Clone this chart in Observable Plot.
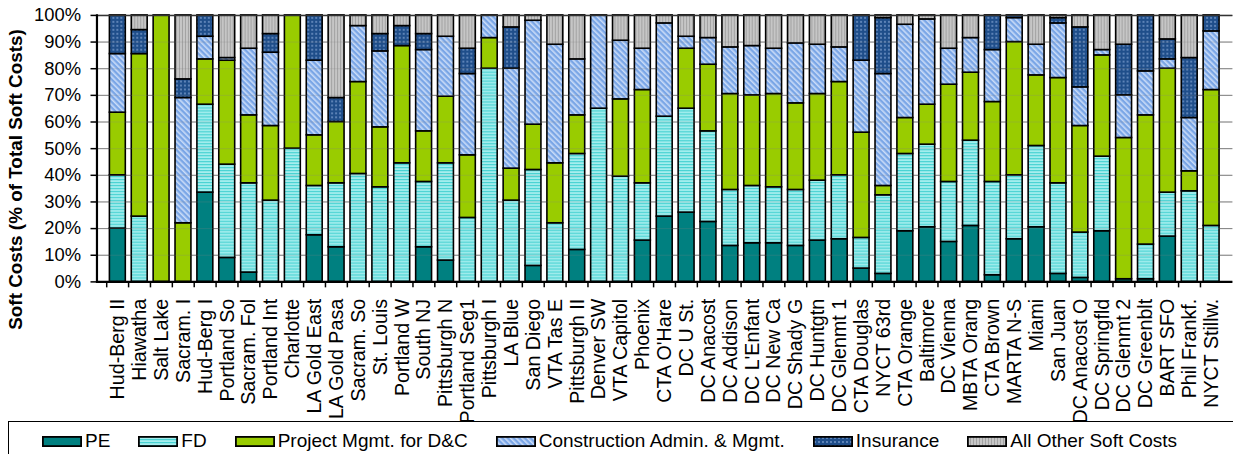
<!DOCTYPE html>
<html><head><meta charset="utf-8">
<script src="https://cdn.jsdelivr.net/npm/d3@7"></script>
<script src="https://cdn.jsdelivr.net/npm/@observablehq/plot@0.6"></script>
<style>
html,body{margin:0;padding:0;background:#fff;overflow:hidden;width:1233px;height:454px;position:relative}
#chart svg{display:block}
#defs{position:absolute;width:0;height:0;left:0;top:0}
.legend{position:absolute;left:8px;top:421px;width:1300px;height:60px;border:1.5px solid #000;box-sizing:border-box;
  font-family:'Liberation Sans',Arial,sans-serif;font-size:19px;line-height:20px;color:#000;padding:9px 0 0 33px;display:flex;align-items:flex-start;gap:28px}
.item{display:flex;align-items:center;gap:3px;white-space:nowrap;height:20px}
.item svg{display:block}
</style></head>
<body>
<svg id="defs" aria-hidden="true"><defs>
  <pattern id="pat-pe" width="4" height="4" patternUnits="userSpaceOnUse"><rect width="4" height="4" fill="#008080"/></pattern>
  <pattern id="pat-fd" width="4" height="3" patternUnits="userSpaceOnUse"><rect width="4" height="3" fill="#a6eeee"/><rect y="0" width="4" height="1.2" fill="#48d2d2"/></pattern>
  <pattern id="pat-pm" width="4" height="4" patternUnits="userSpaceOnUse"><rect width="4" height="4" fill="#99cc00"/></pattern>
  <pattern id="pat-ca" width="4" height="4" patternUnits="userSpaceOnUse" patternTransform="rotate(-45)"><rect width="4" height="4" fill="#7aa6e6"/><rect width="1.6" height="4" fill="#cadcf8"/></pattern>
  <pattern id="pat-ins" width="4" height="4" patternUnits="userSpaceOnUse"><rect width="4" height="4" fill="#1f4e8a"/><circle cx="2" cy="2" r="0.9" fill="#7a9ccc"/></pattern>
  <pattern id="pat-oth" width="3" height="4" patternUnits="userSpaceOnUse"><rect width="3" height="4" fill="#c6c6c6"/><rect width="1" height="4" fill="#a2a2a2"/></pattern>
</defs></svg>
<div id="chart"></div>
<div class="legend" id="legend"></div>
<script>
const categories = ["Hud-Berg II","Hiawatha","Salt Lake","Sacram. I","Hud-Berg I","Portland So","Sacram. Fol","Portland Int","Charlotte","LA Gold East","LA Gold Pasa","Sacram. So","St. Louis","Portland W","South NJ","Pittsburgh N","Portland Seg1","Pittsburgh I","LA Blue","San Diego","VTA Tas E","Pittsburgh II","Denver SW","VTA Capitol","Phoenix","CTA O'Hare","DC U St.","DC Anacost","DC Addison","DC L'Enfant","DC New Ca","DC Shady G","DC Huntgtn","DC Glenmt 1","CTA Douglas","NYCT 63rd","CTA Orange","Baltimore","DC Vienna","MBTA Orang","CTA Brown","MARTA N-S","Miami","San Juan","DC Anacost O","DC Springfld","DC Glenmt 2","DC Greenblt","BART SFO","Phil Frankf.","NYCT Stillw."];
const pe = [20,0,0,0,33.5,9,3.5,0,0,17.5, 13,0,0,0,13,8,0,0,0,6, 0,12,0,0,15.5,24.5,26,22.5,13.5,14.5, 14.5,13.5,15.5,16,5,3,19,20.5,15,21, 2.5,16,20.5,3,1.5,19,1,1,17,0,0];
const fd = [20,24.5,0,0,33,35,33.5,30.5,50,18.5, 24,40.5,35.5,44.5,24.5,36.5,24,80,30.5,36, 22,36,65,39.5,21.5,37.5,39,34,21,21.5, 21,21,22.5,24,11.5,29.5,29,31,22.5,32, 35,24,30.5,34,17,28,0,13,16.5,34,21];
const pm = [23.5,61,100,22,17,39,25.5,28,50,19, 23,34.5,22.5,44,19,25,23.5,11.5,12,17, 22.5,14.5,0,29,35,0,22.5,25,36,34, 35,32.5,32.5,35,39.5,3.5,13.5,15,36.5,25.5, 30,50,26.5,39.5,40,38,53,48.5,46.5,7.5,51];
const ca = [22,0,0,47,8.5,1,25,27.5,0,28, 0,21,28.5,0,30.5,22.5,30.5,8.5,37.5,39, 44.5,21,35,22,15.5,35,4.5,10,17.5,18.5, 17,22.5,18.5,13,27,42,35,32,13.5,13, 19.5,9,11.5,20.5,14.5,2,16,16.5,3.5,20,22];
const ins = [14.5,9,0,7,8,0,0,7,0,17, 9,0,6.5,7.5,6,0,9.5,0,15.5,0, 0,0,0,0,0,0,0,0,0,0, 0,0,0,0,17,21,0,0,0,0, 13,1,0,2,22.5,0,19,21,7.5,22.5,6];
const other = [0,5.5,0,24,0,16,12.5,7,0,0, 31,4,7,4,7,8,12.5,0,4.5,2, 11,16.5,0,9.5,12.5,3,8,8.5,12,11.5, 12.5,10.5,11,12,0,1,3.5,1.5,12.5,8.5, 0,0,11,1,4.5,13,11,0,9,16,0];
const seriesNames = ["PE","FD","Project Mgmt. for D&C","Construction Admin. & Mgmt.","Insurance","All Other Soft Costs"];
const patternIds = ["pat-pe","pat-fd","pat-pm","pat-ca","pat-ins","pat-oth"];
const yTicks = [0,10,20,30,40,50,60,70,80,90,100];
const yTitle = "Soft Costs (% of Total Soft Costs)";

const seriesArrays = [pe, fd, pm, ca, ins, other];
const rows = [];
categories.forEach((c, i) => {
  seriesArrays.forEach((arr, j) => {
    if (arr[i] > 0) rows.push({cat: c, series: seriesNames[j], value: arr[i]});
  });
});

const W = 1240, ML = 97, MR = 0.6;
const step = (W - ML - MR) / categories.length;
const fills = patternIds.map(id => `url(#${id})`);

const chart = Plot.plot({
  width: W, height: 418,
  marginLeft: ML, marginRight: MR, marginTop: 15, marginBottom: 135,
  style: {fontFamily: "'Liberation Sans', Arial, sans-serif", background: "transparent", color: "#000", overflow: "visible"},
  x: {domain: categories, paddingInner: 0.27, paddingOuter: 0.135, align: 0.5},
  y: {domain: [0, 100]},
  color: {domain: seriesNames, range: fills},
  marks: [
    Plot.gridY(yTicks, {stroke: "#808080", strokeOpacity: 1, strokeWidth: 1}),
    Plot.barY(rows, Plot.stackY({x: "cat", y: "value", fill: "series", stroke: "#000", strokeWidth: 1.6})),
    Plot.gridY(yTicks, {stroke: "#808080", strokeOpacity: 0.25, strokeWidth: 1}),
    Plot.ruleY([100], {stroke: "#333", strokeWidth: 1.5}),
    Plot.axisY(yTicks, {tickFormat: d => d + "%", tickSize: 6, tickPadding: 10, fontSize: 18.5, label: null, strokeWidth: 1.5}),
    Plot.frame({anchor: "left", strokeWidth: 2.2}),
    Plot.ruleY([0], {stroke: "#000", strokeWidth: 2.2}),
    Plot.axisX({tickSize: 6, tickFormat: () => "", dx: -step / 2, strokeWidth: 1.5, label: null}),
    Plot.axisX({tickSize: 0, tickRotate: -90, tickPadding: 17, fontSize: 19.8, label: null}),
    Plot.text([yTitle], {frameAnchor: "left", textAnchor: "middle", rotate: -90, dx: -81, dy: 31, fontWeight: "bold", fontSize: 19})
  ]
});
document.getElementById("chart").appendChild(chart);

const legend = document.getElementById("legend");
seriesNames.forEach((name, j) => {
  const item = document.createElement("div");
  item.className = "item";
  item.innerHTML = `<svg width="40" height="11"><rect x="0.9" y="0.9" width="38.2" height="9.2" fill="${fills[j]}" stroke="#000" stroke-width="1.8"/></svg><span>${name.replace("&","&amp;")}</span>`;
  legend.appendChild(item);
});
</script>
</body></html>
